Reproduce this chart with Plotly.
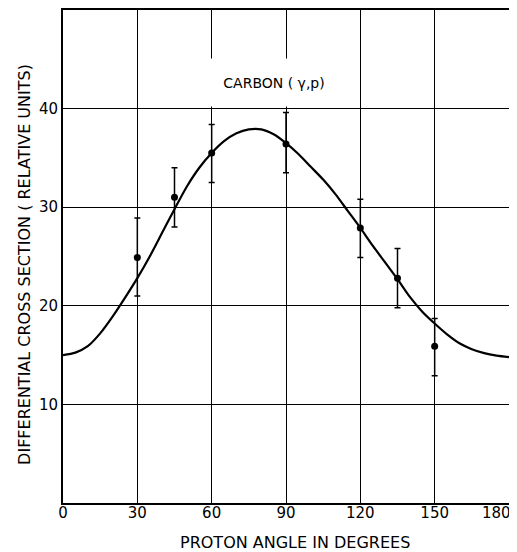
import plotly.graph_objects as go

# Measured data points (angle in degrees, differential cross section)
angles = [30, 45, 60, 90, 120, 135, 150]
values = [24.9, 31.0, 35.5, 36.4, 27.9, 22.8, 15.9]
err_plus = [4.0, 3.0, 2.9, 3.2, 2.9, 3.0, 2.8]
err_minus = [3.9, 3.0, 3.0, 2.9, 3.0, 3.0, 3.0]

# Smooth fitted curve
curve_angles = [0, 5, 10, 15, 20, 25, 30, 35, 40, 45, 50, 55, 60, 65, 70, 75, 80, 85, 90,
                95, 100, 105, 110, 115, 120, 125, 130, 135, 140, 145, 150, 155, 160, 165, 170, 175, 180]
curve_values = [15.0, 15.25, 15.9, 17.2, 18.9, 20.8, 22.8, 25.0, 27.4, 29.8, 32.1, 34.0, 35.5, 36.7, 37.5, 37.9, 37.9, 37.4, 36.5,
                35.4, 34.1, 32.8, 31.3, 29.6, 27.9, 26.1, 24.4, 22.7, 20.9, 19.4, 18.2, 17.1, 16.2, 15.6, 15.2, 14.95, 14.8]

x_ticks = [0, 30, 60, 90, 120, 150, 180]
x_tick_labels = ["0", "30", "60", "90", "120", "150", "180"]
y_ticks = [10, 20, 30, 40]
y_tick_labels = ["10", "20", "30", "40"]

FONT = "DejaVu Sans"

fig = go.Figure()
fig.add_trace(go.Scatter(
    x=curve_angles, y=curve_values, mode="lines",
    line=dict(color="black", width=2.2, shape="spline", smoothing=0.8),
    hoverinfo="skip", showlegend=False,
))
fig.add_trace(go.Scatter(
    x=angles, y=values, mode="markers",
    marker=dict(color="black", size=7),
    error_y=dict(type="data", array=err_plus, arrayminus=err_minus,
                 color="black", thickness=1.5, width=3),
    showlegend=False,
))

fig.add_annotation(
    x=0.472, y=0.852, xref="paper", yref="paper",
    xanchor="center", yanchor="middle",
    text="CARBON ( γ,p)", showarrow=False,
    font=dict(family=FONT, size=14, color="black"),
    bgcolor="white", width=128, height=45,
)
fig.add_annotation(
    x=-0.0852, y=0.483, xref="paper", yref="paper",
    text="DIFFERENTIAL CROSS SECTION ( RELATIVE UNITS)", showarrow=False,
    textangle=-90, xanchor="center", yanchor="middle",
    font=dict(family=FONT, size=16, color="black"),
)
fig.add_annotation(
    x=0.520, y=-0.0811, xref="paper", yref="paper",
    text="PROTON ANGLE IN DEGREES", showarrow=False,
    xanchor="center", yanchor="middle",
    font=dict(family=FONT, size=16, color="black"),
)
# last x tick label sits flush against the right page edge, as in the original
fig.add_annotation(
    x=1.009, y=-0.0203, xref="paper", yref="paper",
    text=x_tick_labels[-1], showarrow=False,
    xanchor="right", yanchor="middle",
    font=dict(family=FONT, size=15, color="black"),
)

fig.update_layout(
    width=517, height=544,
    margin=dict(l=55, r=16, t=2, b=49),
    paper_bgcolor="white", plot_bgcolor="white",
    font=dict(family=FONT, size=14, color="black"),
    xaxis=dict(
        range=[0, 180], tickvals=x_ticks, ticktext=x_tick_labels[:-1] + [""],
        showgrid=True, gridcolor="black", gridwidth=1.4,
        showline=True, linecolor="black", linewidth=2, mirror=True,
        zeroline=False, ticks="", automargin=False, ticklabelstandoff=-5,
        tickfont=dict(family=FONT, size=15),
    ),
    yaxis=dict(
        range=[0, 50], tickvals=y_ticks, ticktext=y_tick_labels,
        showgrid=True, gridcolor="black", gridwidth=1.2,
        showline=True, linecolor="black", linewidth=2, mirror=True,
        zeroline=False, ticks="", automargin=False,
        tickfont=dict(family=FONT, size=15),
    ),
)

fig.write_html("out.html")
